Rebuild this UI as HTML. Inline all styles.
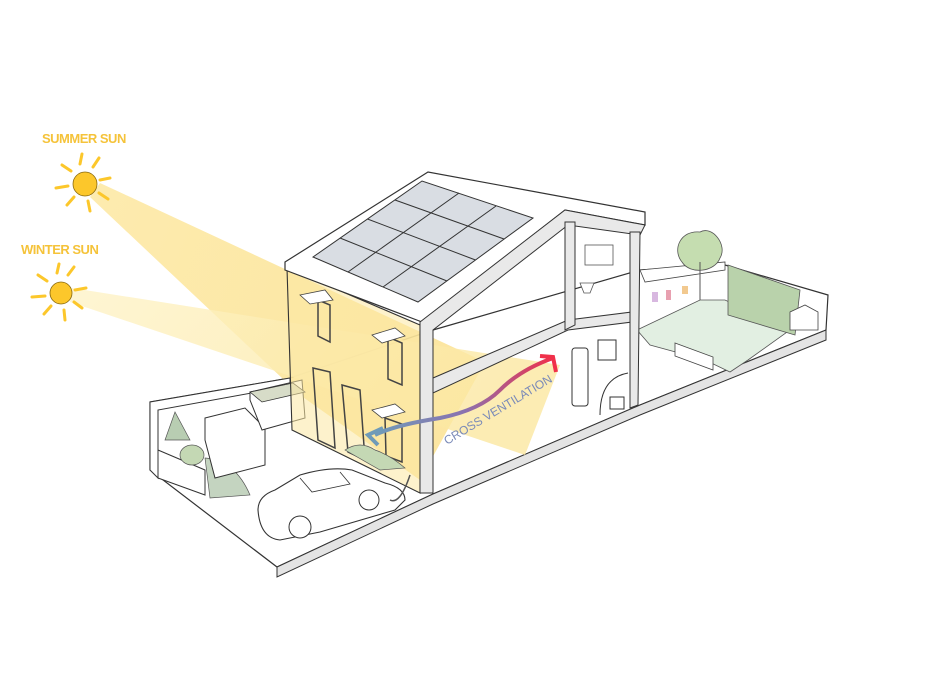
<!DOCTYPE html>
<html><head><meta charset="utf-8"><style>
html,body{margin:0;padding:0;background:#fff;}
svg{display:block}
text{font-family:"Liberation Sans",sans-serif}
</style></head><body>
<svg width="925" height="693" viewBox="0 0 925 693" xmlns="http://www.w3.org/2000/svg">
<defs>
<linearGradient id="sb" x1="0" y1="0" x2="1" y2="0.3">
<stop offset="0" stop-color="#fde9a6" stop-opacity="0.9"/><stop offset="1" stop-color="#fbe08a" stop-opacity="0.8"/></linearGradient>
<linearGradient id="wb" x1="0" y1="0" x2="1" y2="0.3">
<stop offset="0" stop-color="#fef3c8" stop-opacity="0.8"/><stop offset="1" stop-color="#fbe7a0" stop-opacity="0.8"/></linearGradient>
<linearGradient id="cv" x1="0" y1="0" x2="1" y2="0">
<stop offset="0" stop-color="#6f9bb8"/><stop offset="0.5" stop-color="#8a72b0"/><stop offset="1" stop-color="#f0304a"/></linearGradient>
</defs>

<!-- ground slab -->
<polygon points="150,402 290,378 433,330 640,270 725,265 828,295 826,330 640,405 433,494 277,567 150,470" fill="#fff" stroke="#333" stroke-width="1.2"/>
<polygon points="277,567 277,577 433,504 640,415 826,340 826,330 640,405 433,494" fill="#e4e4e4" stroke="#333" stroke-width="1"/>

<!-- garden -->
<polygon points="637,330 700,300 725,300 790,330 748,360 730,372 705,360 650,345" fill="#e2efe2" stroke="#555" stroke-width="0.8"/>
<polygon points="640,270 725,262 725,270 645,282" fill="#fff" stroke="#444" stroke-width="0.8"/>
<polygon points="728,265 800,290 795,335 728,315" fill="#b9d2ab" stroke="#555" stroke-width="0.8"/>
<path d="M700 232 C680 230 672 250 682 262 C690 275 715 272 720 258 C728 245 712 225 700 232Z" fill="#c5ddb0" stroke="#555" stroke-width="0.8"/>
<line x1="700" y1="262" x2="700" y2="300" stroke="#555"/>
<polygon points="675,343 713,357 713,370 675,356" fill="#fff" stroke="#444" stroke-width="0.8"/>
<rect x="652" y="292" width="6" height="10" fill="#d8b8e0"/><rect x="666" y="290" width="5" height="10" fill="#e8a0b0"/><rect x="682" y="286" width="6" height="8" fill="#f2c98f"/>
<polygon points="790,312 805,305 818,312 818,330 790,330" fill="#fff" stroke="#444" stroke-width="0.8"/>

<!-- sun beams -->
<polygon points="100,183 485,362 420,480 300,395 90,197" fill="url(#sb)"/>
<polygon points="72,288 560,365 525,455 70,302" fill="url(#wb)"/>

<!-- left yard wall -->
<polygon points="150,402 290,378 290,386 158,410 158,478 150,470" fill="#fff" stroke="#333" stroke-width="1"/>
<polygon points="158,450 205,470 205,495 158,478" fill="#fff" stroke="#333" stroke-width="1"/>
<path d="M165 440 L175 412 L190 440 Z" fill="#b8cdb2" stroke="#555" stroke-width="0.7"/>
<ellipse cx="192" cy="455" rx="12" ry="10" fill="#c4d8b4" stroke="#555" stroke-width="0.7"/>
<path d="M205 458 Q235 460 250 495 L210 498 Z" fill="#c4d4c0" stroke="#555" stroke-width="0.7"/>
<polygon points="205,418 245,408 265,428 265,465 215,478 205,440" fill="#fff" stroke="#333" stroke-width="1"/>
<polygon points="250,392 302,380 305,418 262,430 250,400" fill="#fff" stroke="#333" stroke-width="1"/>
<polygon points="250,392 293,383 305,392 262,402" fill="#d7dcc8" stroke="#333" stroke-width="0.8"/>

<!-- front facade -->
<polygon points="287,268 420,325 420,493 292,430" fill="#fbe7a3" fill-opacity="0.55" stroke="#333" stroke-width="1.1"/>
<polygon points="318,300 330,305 330,342 318,336" fill="none" stroke="#444" stroke-width="1.5"/>
<polygon points="300,295 325,290 333,300 310,304" fill="#fff" stroke="#444" stroke-width="0.8"/>
<polygon points="388,337 402,343 402,385 388,379" fill="none" stroke="#444" stroke-width="1.5"/>
<polygon points="372,335 395,328 405,336 382,343" fill="#fff" stroke="#444" stroke-width="0.8"/>
<polygon points="313,368 330,372 335,448 318,440" fill="none" stroke="#444" stroke-width="1.5"/>
<polygon points="342,385 360,390 365,460 348,452" fill="none" stroke="#444" stroke-width="1.5"/>
<polygon points="385,418 402,424 402,462 386,456" fill="none" stroke="#444" stroke-width="1.5"/>
<polygon points="372,410 395,404 405,412 382,418" fill="#fff" stroke="#444" stroke-width="0.8"/>
<path d="M345 450 Q360 440 375 450 Q390 455 405 468 L380 470 Z" fill="#c4d8b4" stroke="#555" stroke-width="0.7"/>

<!-- roof -->
<polygon points="285,262 428,172 645,212 645,225 565,210 422,322 285,270" fill="#fff" stroke="#333" stroke-width="1.2"/>
<polygon points="313,257 422,181 533,218 418,302" fill="#d9dde3" stroke="#333" stroke-width="1"/>
<g stroke="#333" stroke-width="1">
<line x1="340" y1="238" x2="447" y2="281"/><line x1="367.5" y1="219" x2="475.5" y2="260"/><line x1="395" y1="200" x2="504" y2="239"/>
<line x1="348" y1="272" x2="459" y2="193"/><line x1="383" y1="287" x2="496" y2="206"/>
</g>

<!-- section -->
<g fill="#e9e9e9" stroke="#333" stroke-width="1">
<polygon points="420,322 565,210 645,225 640,235 568,225 433,330 433,493 420,493"/>
<polygon points="433,378 568,320 632,312 632,322 568,330 433,393"/>
<polygon points="565,222 575,222 575,325 565,330"/>
<polygon points="630,232 640,232 638,405 630,408"/>
</g>
<rect x="585" y="245" width="28" height="20" fill="#fff" stroke="#555" stroke-width="0.8"/>
<path d="M580 283 h14 l-4 10 h-6 Z" fill="#fff" stroke="#555" stroke-width="0.8"/>
<rect x="572" y="348" width="16" height="58" rx="3" fill="#fff" stroke="#333"/>
<rect x="598" y="340" width="18" height="20" fill="#fff" stroke="#333"/>
<rect x="610" y="397" width="14" height="12" fill="#fff" stroke="#333"/>
<path d="M600 415 Q600 378 628 373" fill="none" stroke="#333"/>

<!-- car -->
<path d="M258 510 Q258 496 275 490 L300 475 Q330 466 352 470 L385 483 Q405 488 405 500 L395 510 L320 532 L280 540 Q260 538 258 510Z" fill="#fff" stroke="#333" stroke-width="1.1"/>
<path d="M300 478 L312 492 L350 484 L340 472" fill="none" stroke="#333" stroke-width="0.8"/>
<circle cx="300" cy="527" r="11" fill="#fff" stroke="#333"/><circle cx="369" cy="500" r="10" fill="#fff" stroke="#333"/>
<path d="M390 500 Q400 505 410 475" fill="none" stroke="#555" stroke-width="1.5"/>

<!-- cross ventilation arrow -->
<path d="M553 358 Q520 370 500 390 Q480 410 440 418 Q395 425 375 435" fill="none" stroke="url(#cv)" stroke-width="4"/>
<path d="M383 428 L368 435 L378 445" fill="none" stroke="#6f9bb8" stroke-width="4"/>
<path d="M540 356 L553 357 L556 372" fill="none" stroke="#f0304a" stroke-width="4"/>
<text x="0" y="0" font-size="12" fill="#7a8ab8" transform="translate(447,445) rotate(-31)">CROSS VENTILATION</text>

<!-- suns -->
<g fill="#fcc72b" stroke="#8a6a10" stroke-width="0.8">
<circle cx="85" cy="184" r="12"/>
<circle cx="61" cy="293" r="11"/>
</g>
<g stroke="#fcc72b" stroke-width="3" stroke-linecap="round">
<line x1="80" y1="164" x2="82" y2="154"/><line x1="93" y1="167" x2="99" y2="158"/><line x1="100" y1="180" x2="110" y2="178"/><line x1="99" y1="193" x2="108" y2="199"/><line x1="88" y1="201" x2="90" y2="211"/><line x1="74" y1="197" x2="67" y2="205"/><line x1="68" y1="186" x2="56" y2="188"/><line x1="71" y1="171" x2="62" y2="165"/>
<line x1="57" y1="273" x2="59" y2="264"/><line x1="68" y1="275" x2="74" y2="267"/><line x1="75" y1="290" x2="86" y2="288"/><line x1="74" y1="302" x2="82" y2="308"/><line x1="64" y1="310" x2="65" y2="320"/><line x1="51" y1="306" x2="44" y2="314"/><line x1="45" y1="296" x2="32" y2="297"/><line x1="47" y1="281" x2="38" y2="275"/>
</g>
<text x="42" y="143" font-size="13" font-weight="bold" fill="#f5c33a" letter-spacing="-0.5">SUMMER SUN</text>
<text x="21" y="254" font-size="13" font-weight="bold" fill="#f5c33a" letter-spacing="-0.5">WINTER SUN</text>
</svg>
</body></html>
